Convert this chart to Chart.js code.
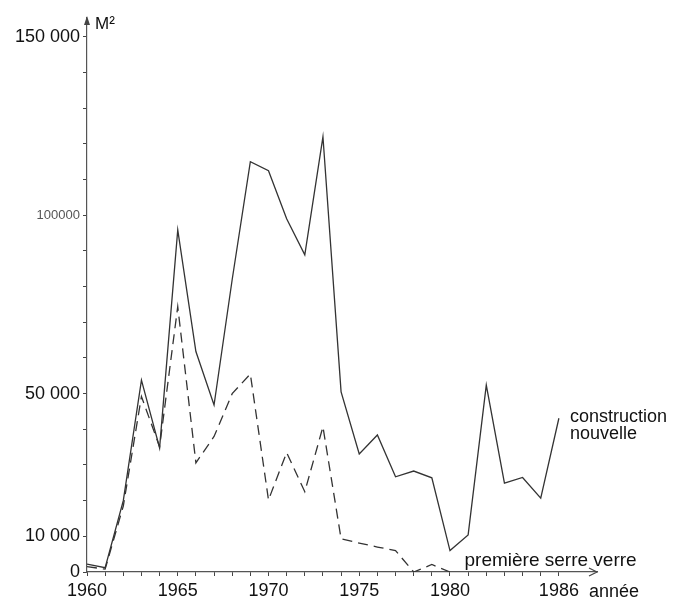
<!DOCTYPE html>
<html>
<head>
<meta charset="utf-8">
<script src="https://cdn.jsdelivr.net/npm/chart.js@4/dist/chart.umd.min.js"></script>
<style>
  html, body { margin: 0; padding: 0; background: #fff; }
  #wrap { width: 673px; height: 603px; }
</style>
</head>
<body>
<div id="wrap"><canvas id="myChart" width="673" height="603"></canvas></div>
<script>
// years 1960 .. 1986
var years = [1960, 1961, 1962, 1963, 1964, 1965, 1966, 1967, 1968, 1969,
             1970, 1971, 1972, 1973, 1974, 1975, 1976, 1977, 1978, 1979,
             1980, 1981, 1982, 1983, 1984, 1985, 1986];

// construction nouvelle (m²)
var construction = [2200, 1200, 20000, 53800, 34800, 95900, 61800, 46800, 82000, 115000,
                    112500, 99000, 88900, 122000, 50500, 33100, 38400, 26700, 28300, 26400,
                    6000, 10400, 52400, 24900, 26500, 20700, 43100];

// première serre verre (m²), stops in 1980
var premiereSerre = [1500, 800, 18500, 49200, 35100, 74400, 30600, 38000, 50000, 55500,
                     20200, 33500, 22500, 40700, 9300, 8100, 7000, 6000, 0, 2100,
                     0];

var xTickValues = [1960, 1961, 1962, 1963, 1964, 1965, 1966, 1967, 1968, 1969,
                   1970, 1971, 1972, 1973, 1974, 1975, 1976, 1977, 1978, 1979,
                   1980, 1981, 1982, 1983, 1984, 1985, 1986];
var xLabelValues = [1960, 1965, 1970, 1975, 1980, 1986];

var yTickValues = [0, 10000, 20000, 30000, 40000, 50000, 60000, 70000, 80000,
                   90000, 100000, 110000, 120000, 130000, 140000, 150000];
var yLabelValues = [0, 10000, 50000, 100000, 150000];
var yLabelTexts = ['0', '10 000', '50 000', '100000', '150 000'];

var FONT = "'Liberation Sans', Arial, sans-serif";
var INK = '#333';

var chartData1 = years.map((y, i) => ({ x: y, y: construction[i] }));
var chartData2 = premiereSerre.map((v, i) => ({ x: years[i], y: v }));

// arrows and free texts of the drawing
var decorPlugin = {
    id: 'decor',
    afterDraw: function (chart) {
        var c = chart.ctx;
        var a = chart.chartArea;
        var xs = chart.scales.x;
        var ys = chart.scales.y;
        c.save();
        c.fillStyle = '#444';
        c.strokeStyle = '#444';
        c.lineWidth = 1.2;
        // y arrow
        c.beginPath();
        c.moveTo(a.left, a.top - 2);
        c.lineTo(a.left - 3, a.top + 7);
        c.lineTo(a.left + 3, a.top + 7);
        c.closePath();
        c.fill();
        // x arrow
        c.beginPath();
        c.moveTo(a.right - 8, a.bottom - 4);
        c.lineTo(a.right, a.bottom);
        c.lineTo(a.right - 8, a.bottom + 4);
        c.stroke();

        c.fillStyle = '#111';
        c.textBaseline = 'alphabetic';
        c.textAlign = 'left';
        c.font = '17px ' + FONT;
        c.fillText('M²', a.left + 8, a.top + 11);

        c.font = '18px ' + FONT;
        var x86 = xs.getPixelForValue(1986);
        c.fillText('année', x86 + 30, a.bottom + 25);
        c.fillText('construction', x86 + 11, ys.getPixelForValue(42000));
        c.fillText('nouvelle', x86 + 11, ys.getPixelForValue(37400));
        c.font = '19px ' + FONT;
        c.fillText('première serre verre', xs.getPixelForValue(1980.8), ys.getPixelForValue(1700));
        c.restore();
    }
};

var ctx = document.getElementById('myChart').getContext('2d');
var myChart = new Chart(ctx, {
    type: 'line',
    data: {
        datasets: [
            {
                label: 'construction nouvelle',
                data: chartData1,
                borderColor: INK,
                borderWidth: 1.3,
                pointRadius: 0,
                tension: 0,
                fill: false
            },
            {
                label: 'première serre verre',
                data: chartData2,
                borderColor: INK,
                borderWidth: 1.3,
                borderDash: [10, 6],
                pointRadius: 0,
                tension: 0,
                fill: false
            }
        ]
    },
    options: {
        responsive: false,
        animation: false,
        layout: { padding: { left: 0, top: 18, right: 76, bottom: 0 } },
        plugins: {
            legend: { display: false },
            tooltip: { enabled: false }
        },
        scales: {
            x: {
                type: 'linear',
                min: 1960,
                max: 1988.1,
                afterBuildTicks: function (scale) {
                    scale.ticks = xTickValues.map(v => ({ value: v }));
                },
                afterFit: function (scale) { scale.height = 31; },
                ticks: {
                    autoSkip: false,
                    maxRotation: 0,
                    padding: 4,
                    color: '#111',
                    font: { family: FONT, size: 18 },
                    callback: function (v) {
                        return xLabelValues.indexOf(v) >= 0 ? String(v) : '';
                    }
                },
                grid: {
                    drawOnChartArea: false,
                    drawTicks: true,
                    tickLength: 4,
                    color: '#444'
                },
                border: { display: true, color: '#555', width: 1.2 }
            },
            y: {
                type: 'linear',
                min: 0,
                max: 155300,
                afterBuildTicks: function (scale) {
                    scale.ticks = yTickValues.map(v => ({ value: v }));
                },
                afterFit: function (scale) { scale.width = 87; },
                ticks: {
                    autoSkip: false,
                    padding: 3,
                    color: function (c) {
                        return c.tick && c.tick.value === 100000 ? '#555' : '#111';
                    },
                    font: function (c) {
                        var s = c.tick && c.tick.value === 100000 ? 13 : 18;
                        return { family: FONT, size: s };
                    },
                    callback: function (v) {
                        var i = yLabelValues.indexOf(v);
                        return i >= 0 ? yLabelTexts[i] : '';
                    }
                },
                grid: {
                    drawOnChartArea: false,
                    drawTicks: true,
                    tickLength: 4,
                    color: '#444'
                },
                border: { display: true, color: '#555', width: 1.2 }
            }
        }
    },
    plugins: [decorPlugin]
});
</script>
</body>
</html>
